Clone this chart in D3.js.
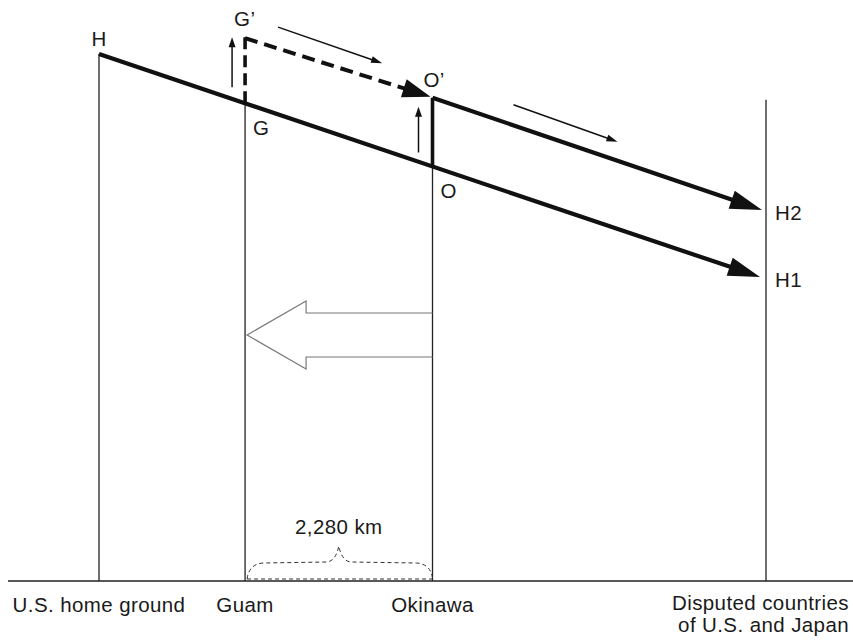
<!DOCTYPE html>
<html><head><meta charset="utf-8">
<script src="https://cdn.jsdelivr.net/npm/d3@7"></script>
<style>
body{margin:0;background:#fff;}
svg text{font-family:"Liberation Sans",Arial,Helvetica,sans-serif;font-size:20.5px;fill:#1a1a1a;letter-spacing:0.4px;}
</style></head>
<body><svg id="c" width="853" height="641"></svg>
<script>
// Locations along the horizontal axis (relative distance units, US home ground = 0, disputed area = 100)
const places = ["U.S. home ground", "Guam", "Okinawa", "Disputed countries|of U.S. and Japan"];
const placePos = [0, 21.9, 50, 100];
// Top of each location's vertical line (level units, baseline = 0)
const placeTop = [100, 90.65, 78.66, 91.3];
// Original line H -> H1 (level falls with distance)
const lineH = [{x: 0, y: 100, label: "H"}, {x: 99.1, y: 57.7, label: "H1"}];
// Raised line O' -> H2
const lineO2 = [{x: 50, y: 91.7, label: "O\u2019"}, {x: 99.4, y: 70.4, label: "H2"}];
// Raised point G'
const pointG2 = {x: 21.9, y: 103.2, label: "G\u2019"};
const distanceLabel = "2,280 km";

const svg = d3.select("#c");
const x = d3.scaleLinear().domain([0, 100]).range([99, 766]);
const y = d3.scaleLinear().domain([0, 100]).range([581, 54]);
const ink = "#111";

function arrow(g, x1, y1, x2, y2, len, hw, w, dash) {
  const dx = x2 - x1, dy = y2 - y1, L = Math.hypot(dx, dy);
  const ux = dx / L, uy = dy / L;
  const bx = x2 - ux * len, by = y2 - uy * len;
  g.append("line").attr("x1", x1).attr("y1", y1).attr("x2", bx + ux * 2).attr("y2", by + uy * 2)
    .attr("stroke", ink).attr("stroke-width", w).attr("stroke-dasharray", dash || null);
  g.append("path").attr("d", d3.line()([[x2, y2], [bx - uy * hw, by + ux * hw], [bx + uy * hw, by - ux * hw]]) + "Z")
    .attr("fill", ink);
}
const g = svg.append("g");

// baseline
g.append("line").attr("x1", 8).attr("x2", 853).attr("y1", y(0)).attr("y2", y(0))
  .attr("stroke", "#222").attr("stroke-width", 1.3);

// vertical location lines
places.forEach((p, i) => {
  g.append("line").attr("x1", x(placePos[i])).attr("x2", x(placePos[i]))
    .attr("y1", y(placeTop[i])).attr("y2", y(0)).attr("stroke", "#222").attr("stroke-width", 1.3);
});

// location labels
places.forEach((p, i) => {
  const parts = p.split("|");
  if (parts.length === 1) {
    g.append("text").attr("x", x(placePos[i])).attr("y", 612).attr("text-anchor", "middle").text(p);
  } else {
    parts.forEach((t, j) => g.append("text").attr("x", 849).attr("y", 610 + j * 22)
      .attr("text-anchor", "end").text(t));
  }
});

// interpolation along main line
const mainAt = u => lineH[0].y + (lineH[1].y - lineH[0].y) * (u - lineH[0].x) / (lineH[1].x - lineH[0].x);
const gY = mainAt(placePos[1]), oY = mainAt(placePos[2]);

// main line H -> H1
arrow(g, x(lineH[0].x), y(lineH[0].y), x(lineH[1].x), y(lineH[1].y), 32, 9.5, 4.2);
// raised line O' -> H2
arrow(g, x(lineO2[0].x), y(lineO2[0].y), x(lineO2[1].x), y(lineO2[1].y), 32, 9.5, 4.2);
// O -> O' vertical thick
g.append("line").attr("x1", x(placePos[2])).attr("x2", x(placePos[2]))
  .attr("y1", y(oY)).attr("y2", y(lineO2[0].y)).attr("stroke", ink).attr("stroke-width", 3.6);
// G -> G' dashed vertical
g.append("line").attr("x1", x(pointG2.x)).attr("x2", x(pointG2.x))
  .attr("y1", y(gY)).attr("y2", y(pointG2.y)).attr("stroke", ink).attr("stroke-width", 3.6)
  .attr("stroke-dasharray", "12,6");
// G' -> O' dashed arrow
arrow(g, x(pointG2.x), y(pointG2.y) + 1, x(lineO2[0].x) - 2, y(lineO2[0].y) - 1, 28, 9.5, 4, "13,7");

// small direction arrows
arrow(g, x(placePos[1]) - 13, y(gY) - 16, x(placePos[1]) - 13, y(pointG2.y), 10, 3.5, 1.5);
arrow(g, x(placePos[2]) - 14, y(oY) - 14, x(placePos[2]) - 14, y(lineO2[0].y) + 9, 10, 3.5, 1.5);
arrow(g, x(pointG2.x) + 33, y(pointG2.y) - 10, x(pointG2.x) + 137, y(pointG2.y) + 26, 11, 3.5, 1.5);
arrow(g, x(lineO2[0].x) + 81, y(lineO2[0].y) + 7, x(lineO2[0].x) + 185, y(lineO2[0].y) + 44, 11, 3.5, 1.5);

// point labels
g.append("text").attr("x", x(lineH[0].x)).attr("y", 46).attr("text-anchor", "middle").text(lineH[0].label);
g.append("text").attr("x", x(pointG2.x) - 11).attr("y", 26).text(pointG2.label);
g.append("text").attr("x", x(placePos[1]) + 8).attr("y", y(gY) + 32).text("G");
g.append("text").attr("x", x(placePos[2]) + 8).attr("y", y(oY) + 32).text("O");
g.append("text").attr("x", x(lineO2[0].x) - 9).attr("y", y(lineO2[0].y) - 11).text(lineO2[0].label);
g.append("text").attr("x", 775).attr("y", y(lineO2[1].y) + 10).text(lineO2[1].label);
g.append("text").attr("x", 775).attr("y", y(lineH[1].y) + 10).text(lineH[1].label);

// hollow relocation arrow Okinawa -> Guam
const ax0 = x(placePos[2]), ax1 = x(placePos[1]) + 2, acy = 335;
g.append("path").attr("d", d3.line()([
  [ax0, acy - 22], [ax1 + 59, acy - 22], [ax1 + 59, acy - 34], [ax1, acy],
  [ax1 + 59, acy + 34], [ax1 + 59, acy + 22], [ax0, acy + 22]]))
  .attr("fill", "none").attr("stroke", "#777").attr("stroke-width", 1.2);

// distance brace
const bl = x(placePos[1]) + 2, br = x(placePos[2]), bm = (bl + br) / 2 - 1, by0 = 579;
g.append("path").attr("d",
  `M${bl},${by0} Q${bl + 2},${by0 - 15} ${bl + 16},${by0 - 16} L${bm - 12},${by0 - 17} Q${bm - 3},${by0 - 18} ${bm},${by0 - 33}` +
  ` Q${bm + 3},${by0 - 18} ${bm + 12},${by0 - 17} L${br - 16},${by0 - 16} Q${br - 2},${by0 - 15} ${br},${by0 - 1}` +
  ` M${bl},${by0} L${br},${by0}`)
  .attr("fill", "none").attr("stroke", "#333").attr("stroke-width", 1).attr("stroke-dasharray", "4,3");
g.append("text").attr("x", bm).attr("y", 534).attr("text-anchor", "middle").text(distanceLabel);
</script></body></html>
